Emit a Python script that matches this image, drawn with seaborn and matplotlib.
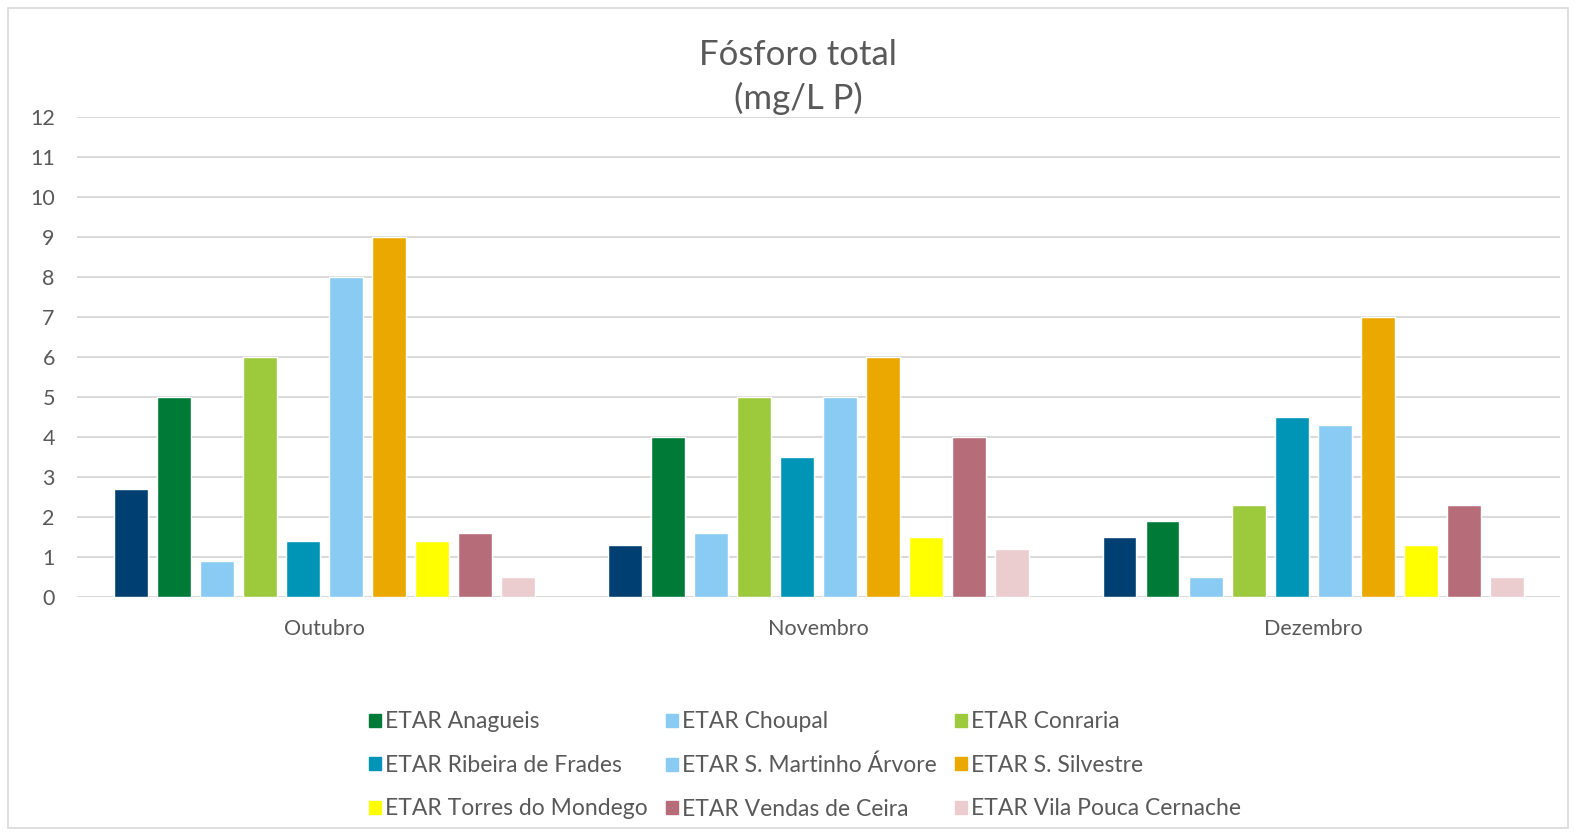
import matplotlib
matplotlib.use("Agg")
import matplotlib.pyplot as plt
import matplotlib.patches as mpatches
import seaborn as sns
import pandas as pd

months = ["Outubro", "Novembro", "Dezembro"]
stations = [
    "ETAR (série 1)",
    "ETAR Anagueis",
    "ETAR Choupal",
    "ETAR Conraria",
    "ETAR Ribeira de Frades",
    "ETAR S. Martinho Árvore",
    "ETAR S. Silvestre",
    "ETAR Torres do Mondego",
    "ETAR Vendas de Ceira",
    "ETAR Vila Pouca Cernache",
]
serie1 = [2.7, 1.3, 1.5]
anagueis = [5.0, 4.0, 1.9]
choupal = [0.9, 1.6, 0.5]
conraria = [6.0, 5.0, 2.3]
ribeira = [1.4, 3.5, 4.5]
martinho = [8.0, 5.0, 4.3]
silvestre = [9.0, 6.0, 7.0]
torres = [1.4, 1.5, 1.3]
vendas = [1.6, 4.0, 2.3]
vila = [0.5, 1.2, 0.5]
values = [serie1, anagueis, choupal, conraria, ribeira, martinho, silvestre, torres, vendas, vila]
colors = ["#003F72", "#007A37", "#89CBF3", "#9DC93D", "#0094B6",
          "#89CBF3", "#EBA800", "#FFFF00", "#B76D79", "#EBCDD0"]
yticks = list(range(0, 13))

rows = []
for st, vals in zip(stations, values):
    for m, v in zip(months, vals):
        rows.append({"Mês": m, "Estação": st, "Valor": v})
df = pd.DataFrame(rows)

sns.set_theme(style="white")
plt.rcParams["font.family"] = ["Lato", "DejaVu Sans"]
txt = "#595959"

fig = plt.figure(figsize=(15.76, 8.35), dpi=100)
ax = fig.add_axes([0.0489, 0.285, 0.9411, 0.575])
sns.barplot(data=df, x="Mês", y="Valor", hue="Estação", order=months,
            hue_order=stations, palette=colors, width=0.87, gap=0.21,
            saturation=1, legend=False, ax=ax, zorder=3, errorbar=None)

ax.set_xlim(-0.5, 2.5)
ax.set_ylim(0, 12)
ax.set_yticks(yticks)
ax.set_yticklabels([str(t) for t in yticks])
ax.yaxis.grid(True, color="#D9D9D9", linewidth=1.4, zorder=0)
ax.set_axisbelow(True)
for s in ax.spines.values():
    s.set_visible(False)
ax.axhline(0, color="#D9D9D9", linewidth=1.4, zorder=1)
ax.set_xlabel("")
ax.set_ylabel("")
ax.tick_params(axis="both", length=0, colors=txt, labelsize=15.5)
ax.tick_params(axis="x", pad=16)
ax.tick_params(axis="y", pad=16)

fig.text(0.5065, 0.953, "Fósforo total\n(mg/L P)", ha="center", va="top",
         fontsize=25, color=txt, linespacing=1.38)

handles = [mpatches.Patch(color=c, label=s) for c, s in zip(colors[1:], stations[1:])]
order = [0, 3, 6, 1, 4, 7, 2, 5, 8]
hs = [handles[i] for i in order]
leg = fig.legend(handles=hs, loc="center", bbox_to_anchor=(0.511, 0.083), ncol=3,
                 frameon=False, fontsize=16.5, handlelength=0.5, handleheight=0.5,
                 handletextpad=0.2, columnspacing=0.8, labelspacing=0.98)
for t in leg.get_texts():
    t.set_color(txt)

fig.patches.append(mpatches.Rectangle((0.005, 0.008), 0.99, 0.982, transform=fig.transFigure,
                                      fill=False, edgecolor="#D9D9D9", linewidth=1.2))

fig.savefig("out.png", dpi=100)
